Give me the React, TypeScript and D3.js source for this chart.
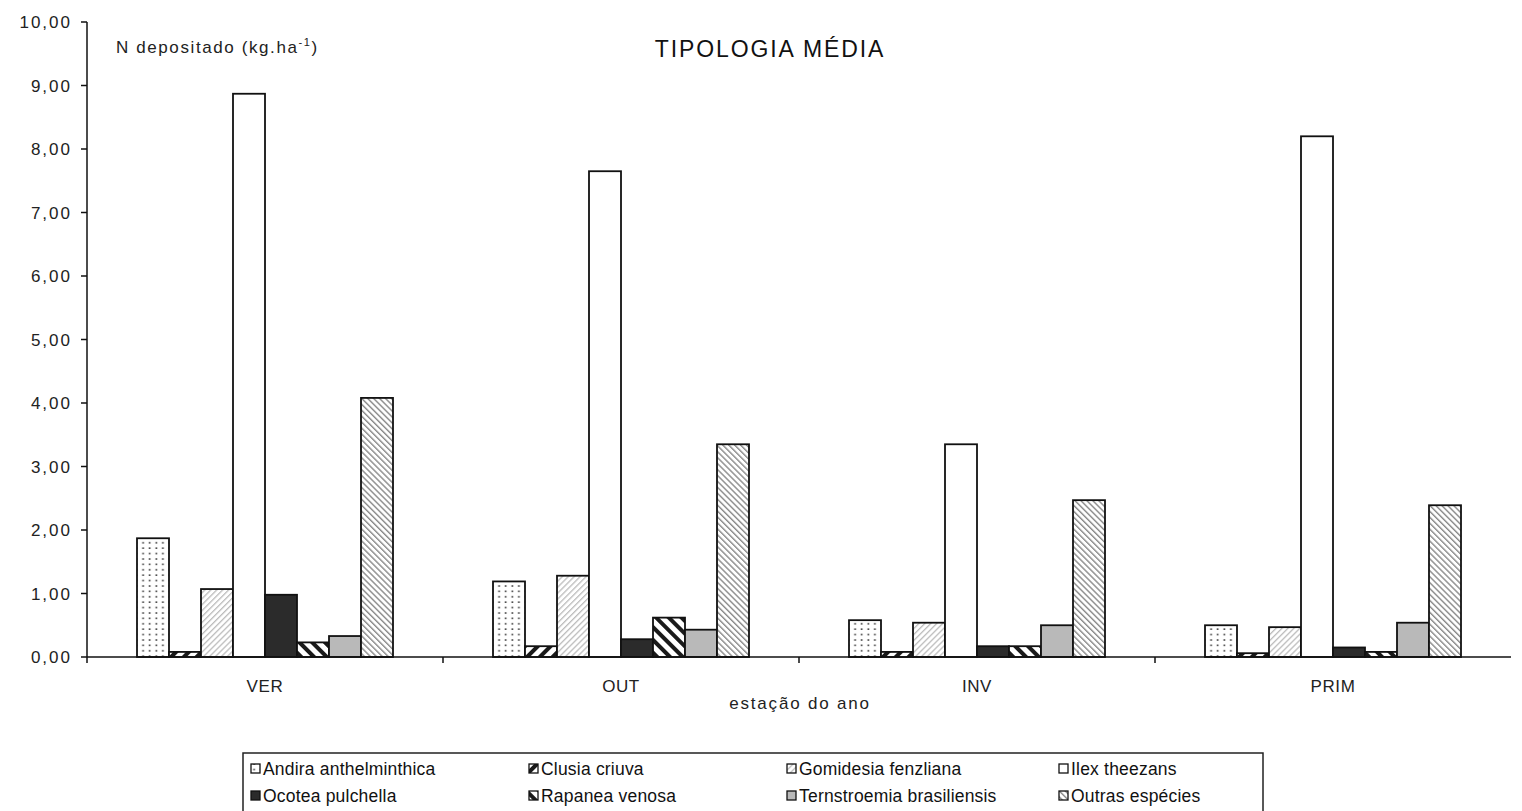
import React from "react";
import * as d3 from "d3";

// Seasons on the x axis
const seasons = ["VER", "OUT", "INV", "PRIM"];

// Species shown as bars within each season
const species = [
  "Andira anthelminthica",
  "Clusia criuva",
  "Gomidesia fenzliana",
  "Ilex theezans",
  "Ocotea pulchella",
  "Rapanea venosa",
  "Ternstroemia brasiliensis",
  "Outras espécies",
];

// N deposited (kg.ha-1) per species, one array per season
const verValues = [1.87, 0.08, 1.07, 8.87, 0.98, 0.23, 0.33, 4.08];
const outValues = [1.19, 0.17, 1.28, 7.65, 0.28, 0.62, 0.43, 3.35];
const invValues = [0.58, 0.08, 0.54, 3.35, 0.17, 0.17, 0.5, 2.47];
const primValues = [0.5, 0.06, 0.47, 8.2, 0.15, 0.08, 0.54, 2.39];

const seasonValues = [verValues, outValues, invValues, primValues];

const yTicks = [0, 1, 2, 3, 4, 5, 6, 7, 8, 9, 10];

const W = 1522;
const H = 811;
const left = 87;
const right = 1511;
const top = 22;
const bottom = 657;

const fills = [
  "url(#pDots)",
  "url(#pWideFwd)",
  "url(#pThinFwd)",
  "#ffffff",
  "#2b2b2b",
  "url(#pWideBack)",
  "#b9b9b9",
  "url(#pThinBack)",
];

const ptBR = d3.formatLocale({
  decimal: ",",
  thousands: ".",
  grouping: [3],
  currency: ["R$", ""],
});
const fmt = ptBR.format(".2f");

const FONT = "'Liberation Sans', Arial, sans-serif";

export default function App() {
  const x0 = d3.scaleBand<string>().domain(seasons).range([left, right]).padding(0);
  const x1 = d3
    .scaleBand<string>()
    .domain(species)
    .range([0, x0.bandwidth()])
    .paddingInner(0)
    .paddingOuter(1.5625);
  const y = d3.scaleLinear().domain([0, 10]).range([bottom, top]);

  const legendCols = [251, 529, 787, 1059];
  const legendRows = [768, 795];

  return (
    <svg
      width={W}
      height={H}
      style={{ position: "absolute", left: 0, top: 0, background: "#fff" }}
      fontFamily={FONT}
    >
      <defs>
        <pattern id="pDots" width="6.6" height="5.4" patternUnits="userSpaceOnUse">
          <rect width="6.6" height="5.4" fill="#fff" />
          <rect x="2.5" y="2" width="1.6" height="1.6" fill="#333" />
        </pattern>
        <pattern
          id="pWideFwd"
          width="9"
          height="9"
          patternUnits="userSpaceOnUse"
          patternTransform="rotate(45)"
        >
          <rect width="9" height="9" fill="#fff" />
          <rect width="4" height="9" fill="#1a1a1a" />
        </pattern>
        <pattern
          id="pWideBack"
          width="9"
          height="9"
          patternUnits="userSpaceOnUse"
          patternTransform="rotate(-45)"
        >
          <rect width="9" height="9" fill="#fff" />
          <rect width="4" height="9" fill="#1a1a1a" />
        </pattern>
        <pattern
          id="pThinFwd"
          width="4.2"
          height="4.2"
          patternUnits="userSpaceOnUse"
          patternTransform="rotate(45)"
        >
          <rect width="4.2" height="4.2" fill="#fff" />
          <rect width="1.3" height="4.2" fill="#bdbdbd" />
        </pattern>
        <pattern
          id="pThinBack"
          width="4.2"
          height="4.2"
          patternUnits="userSpaceOnUse"
          patternTransform="rotate(-45)"
        >
          <rect width="4.2" height="4.2" fill="#fff" />
          <rect width="1.4" height="4.2" fill="#8a8a8a" />
        </pattern>
      </defs>

      {/* bars */}
      {seasons.map((s, si) => (
        <g key={s} transform={`translate(${x0(s)},0)`}>
          {species.map((sp, i) => {
            const v = seasonValues[si][i];
            return (
              <rect
                key={sp}
                x={x1(sp)}
                y={y(v)}
                width={x1.bandwidth()}
                height={bottom - y(v)}
                fill={fills[i]}
                stroke="#111"
                strokeWidth={1.8}
              />
            );
          })}
        </g>
      ))}

      {/* y axis */}
      <line x1={left} x2={left} y1={y(10)} y2={bottom + 6} stroke="#111" strokeWidth={1.5} />
      {yTicks.map((t) => (
        <g key={t}>
          <line x1={left - 6} x2={left} y1={y(t)} y2={y(t)} stroke="#111" strokeWidth={1.5} />
          <text
            x={72}
            y={y(t) + 6}
            textAnchor="end"
            fontSize={17}
            letterSpacing={2}
            fill="#222"
          >
            {fmt(t)}
          </text>
        </g>
      ))}

      {/* x axis */}
      <line x1={left} x2={right} y1={bottom} y2={bottom} stroke="#111" strokeWidth={1.5} />
      {seasons.map((s, i) =>
        i > 0 ? (
          <line
            key={"t" + s}
            x1={x0(s)}
            x2={x0(s)}
            y1={bottom}
            y2={bottom + 6}
            stroke="#111"
            strokeWidth={1.5}
          />
        ) : null
      )}
      {seasons.map((s) => (
        <text
          key={"l" + s}
          x={(x0(s) as number) + x0.bandwidth() / 2}
          y={692}
          textAnchor="middle"
          fontSize={17}
          letterSpacing={0.6}
          fill="#222"
        >
          {s}
        </text>
      ))}
      <text x={800} y={709} textAnchor="middle" fontSize={17} letterSpacing={1.8} fill="#222">
        estação do ano
      </text>

      {/* axis title and chart title */}
      <text x={116} y={53} fontSize={17} letterSpacing={1.6} fill="#222">
        N depositado (kg.ha
        <tspan fontSize={11} dy={-7}>
          -1
        </tspan>
        <tspan dy={7}>)</tspan>
      </text>
      <text x={770} y={57} textAnchor="middle" fontSize={23} letterSpacing={1.9} fill="#111">
        TIPOLOGIA MÉDIA
      </text>

      {/* legend */}
      <rect x={243} y={753} width={1020} height={70} fill="#fff" stroke="#222" strokeWidth={1.5} />
      {species.map((sp, i) => {
        const cx = legendCols[i % 4];
        const cy = legendRows[Math.floor(i / 4)];
        return (
          <g key={"lg" + sp}>
            <rect
              x={cx}
              y={cy - 4}
              width={9}
              height={9}
              fill={fills[i]}
              stroke="#111"
              strokeWidth={1.3}
            />
            <text x={cx + 12} y={cy + 6.5} fontSize={17.5} letterSpacing={0.2} fill="#111">
              {sp}
            </text>
          </g>
        );
      })}
    </svg>
  );
}
